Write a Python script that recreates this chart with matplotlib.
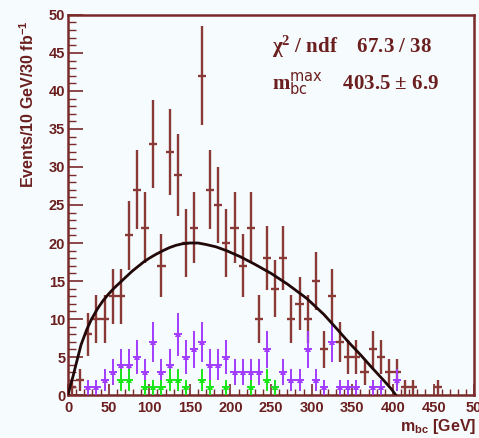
import numpy as np
import matplotlib
matplotlib.use("Agg")
import matplotlib.pyplot as plt
from matplotlib.ticker import MultipleLocator

# ---- data (10 GeV bins, centres) ----
bin_centres = np.arange(5, 500, 10)
signal = [1, 2, 8, 10, 10, 13, 13, 21, 27, 22,
          33, 17, 32, 29, 20, 22, 42, 27, 25, 20,
          22, 17, 22, 10, 18, 14, 18, 10, 12, 10,
          15, 6, 13, 7, 5, 5, 3, 6, 5, 3,
          3, 1, 1, 0, 0, 1, 0, 0, 0, 0]
purple = [0, 0, 1, 1, 2, 3, 4, 4, 5, 3,
          7, 3, 4, 8, 5, 6, 7, 4, 4, 5,
          3, 3, 3, 3, 6, 1, 3, 2, 2, 6,
          2, 1, 7, 1, 1, 1, 0, 1, 1, 0,
          2, 0, 0, 0, 0, 0, 0, 0, 0, 0]
green = [0, 0, 0, 0, 0, 0, 2, 2, 0, 1,
         1, 1, 2, 2, 1, 0, 2, 1, 0, 1,
         0, 0, 1, 0, 2, 1, 0, 0, 0, 0,
         0, 0, 0, 0, 0, 0, 0, 0, 0, 0,
         0, 0, 0, 0, 0, 0, 0, 0, 0, 0]
# fit curve
fit_m = [0, 3, 6, 10, 16, 23, 29, 36, 43, 50, 57, 65, 72, 79, 86, 93, 100,
         108, 117, 125, 133, 141, 150, 160, 170, 182, 195, 212,
         230, 250, 270, 294, 315, 331, 345, 360, 375, 388, 398, 403.5]
fit_v = [0, 1.3, 2.4, 4.1, 6.6, 8.6, 10.0, 11.3, 12.4, 13.3, 14.1, 14.9,
         15.6, 16.3, 16.9, 17.5, 18.0, 18.5, 19.0, 19.4, 19.7, 19.9, 20.0,
         20.0, 19.8, 19.5, 19.0, 18.2, 17.2, 16.0, 14.6, 12.7, 10.6, 8.7,
         7.0, 5.3, 3.5, 2.0, 0.8, 0]
xticks = [0, 50, 100, 150, 200, 250, 300, 350, 400, 450, 500]
xtick_labels = ["0", "50", "100", "150", "200", "250", "300", "350", "400", "450", "50"]
yticks = [0, 5, 10, 15, 20, 25, 30, 35, 40, 45, 50]

bg = "#f6fbfd"
frame_c = "#7a2a2a"
red_c = "#8a3a36"
purple_c = "#a23cff"
green_c = "#19e619"
tc = "#6b1f1f"

plt.rcParams['mathtext.default'] = 'regular'
fig = plt.figure(figsize=(4.79, 4.38), dpi=100, facecolor=bg)
ax = fig.add_axes([0.142, 0.098, 0.848, 0.868], facecolor=bg)


def draw(series, color, marker, ms, lw):
    x = np.asarray(bin_centres, dtype=float)
    y = np.asarray(series, dtype=float)
    m = y > 0
    ax.errorbar(x[m], y[m], yerr=np.sqrt(y[m]), xerr=5, fmt=marker, ms=ms,
                color=color, ecolor=color, elinewidth=lw, capsize=0,
                mew=0, zorder=3)


draw(signal, red_c, 'none', 0, 1.7)
draw(purple, purple_c, '^', 4, 1.4)
draw(green, green_c, '^', 4, 1.4)
ax.plot(fit_m, fit_v, color="#220808", lw=2.0, zorder=5, solid_joinstyle='round')

ax.set_xlim(0, 500)
ax.set_ylim(0, 50)
ax.set_xticks(xticks)
ax.set_xticklabels(xtick_labels)
ax.set_yticks(yticks)
ax.xaxis.set_minor_locator(MultipleLocator(10))
ax.yaxis.set_minor_locator(MultipleLocator(1))
ax.tick_params(axis='both', which='both', direction='in', colors=frame_c,
               labelcolor=tc, top=False, right=False)
ax.tick_params(axis='y', which='major', length=11, width=1.2)
ax.tick_params(axis='y', which='minor', length=6, width=1.0)
ax.tick_params(axis='x', which='major', length=8, width=1.2)
ax.tick_params(axis='x', which='minor', length=4, width=1.0)
for lab in ax.get_xticklabels() + ax.get_yticklabels():
    lab.set_fontfamily('Liberation Sans')
    lab.set_fontweight('bold')
    lab.set_fontsize(10.5)
ax.tick_params(axis='y', pad=2)
ax.tick_params(axis='x', pad=4)
for s in ax.spines.values():
    s.set_color(frame_c)
    s.set_linewidth(1.8)

fig.text(28 / 479, 1 - 20 / 438, "Events/10 GeV/30 fb$^{-1}$", family='Liberation Sans',
         weight='bold', fontsize=11.5, color=tc, rotation=90,
         ha='center', va='top')
fig.text(476 / 479, 1 - 436 / 438, "m$_{bc}$ [GeV]", family='Liberation Sans',
         weight='bold', fontsize=11.5, color=tc, ha='right', va='bottom')

fig.text(272 / 479, 1 - 53 / 438, r"$\chi^{2}$ / ndf    67.3 / 38",
         family='Liberation Serif', weight='bold', fontsize=15, color=tc)
fig.text(272 / 479, 1 - 90 / 438, r"m$_{\mathrm{bc}}^{\mathrm{max}}$    403.5 ± 6.9",
         family='Liberation Serif', weight='bold', fontsize=15, color=tc)

fig.savefig("out.png", dpi=100, facecolor=bg)
